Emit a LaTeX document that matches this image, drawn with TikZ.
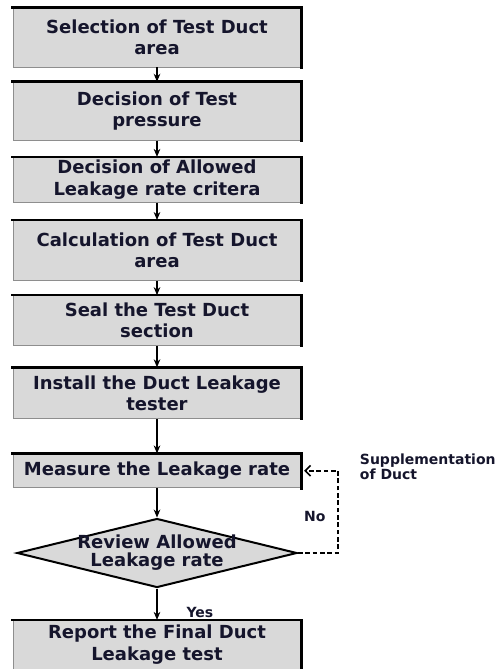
\documentclass[tikz,border=0pt]{standalone}
\usepackage{fontspec}
\setmainfont{DejaVu Sans}
\usepackage{tikz}
\usetikzlibrary{positioning,shapes.geometric,arrows.meta}
\definecolor{boxgray}{HTML}{D9D9D9}
\definecolor{edgegray}{HTML}{8E8E8E}
\definecolor{inkblue}{HTML}{15152C}

\begin{document}
\begin{tikzpicture}[->,>={Stealth[length=6pt,width=5pt]},thick,
      task node/.style={rectangle,fill=boxgray,draw=edgegray,line width=0.6pt,
        minimum width=216pt,inner sep=0pt,align=center,text=inkblue,
        font=\bfseries\fontsize{13.5}{16}\selectfont},
      decision node/.style={diamond,aspect=4,fill=boxgray,draw=black,line width=1.5pt,
        minimum width=210pt,minimum height=51.75pt,inner xsep=-20pt,inner ysep=-6pt,
        align=center,text=inkblue,font=\bfseries\fontsize{13.5}{13.5}\selectfont},
      box edge/.style={-,draw=black,line width=2pt,line cap=rect},
      side label/.style={inner sep=0pt,align=left,text=inkblue,
        font=\bfseries\fontsize{10.5}{11.5}\selectfont}]
      \useasboundingbox (0,0) rectangle (378pt,-501.75pt);

      \node[task node,minimum height=44.25pt] (select) at (117.75pt,-28.1pt) {Selection of Test Duct\\area};
      \node[task node,minimum height=43.5pt] (pressure) [below=10.75pt of select] {Decision of Test\\pressure};
      \node[task node,minimum height=33.75pt] (criteria) [below=12.25pt of pressure] {Decision of Allowed\\Leakage rate critera};
      \node[task node,minimum height=45pt] (area) [below=13pt of criteria] {Calculation of Test Duct\\area};
      \node[task node,minimum height=37.5pt] (seal) [below=10.75pt of area] {Seal the Test Duct\\section};
      \node[task node,minimum height=38.25pt] (install) [below=16pt of seal] {Install the Duct Leakage\\tester};
      \node[task node,minimum height=25.5pt] (measure) [below=25.75pt of install] {Measure the Leakage rate};
      \node[decision node] (review) [below=22pt of measure] {Review Allowed\\Leakage rate};
      \node[task node,minimum height=36.75pt] (report) [below=23.5pt of review] {Report the Final Duct\\Leakage test};

      % dark top and right rims of the boxes
      \foreach \n in {select,pressure,criteria,area,seal,install,measure,report}
        \draw[box edge] (\n.north west) -- (\n.north east) -- (\n.south east);

      \path
        (select) edge (pressure)
        (pressure) edge (criteria)
        (criteria) edge (area)
        (area) edge (seal)
        (seal) edge (install)
        (install) edge (measure)
        (measure) edge (review)
        (review) edge (report);

      % rejected case goes back to the measurement
      \coordinate (loop) at ([xshift=30pt]review.east);
      \draw[dashed,dash pattern=on 3.5pt off 2pt,line width=1.2pt,
            -{Straight Barb[length=4pt,width=8pt]}]
        (review.east) -- (loop) |- ([xshift=2pt]measure.east);

      \node[side label] (nolabel) [above left=23pt and 9pt of loop] {No};
      \node[side label] (yeslabel) [above right=1pt and 21.75pt of report.north] {Yes};
      \node[side label] (supplement) [right=43.5pt of measure.east,yshift=3pt] {Supplementation\\of Duct};
\end{tikzpicture}
\end{document}
